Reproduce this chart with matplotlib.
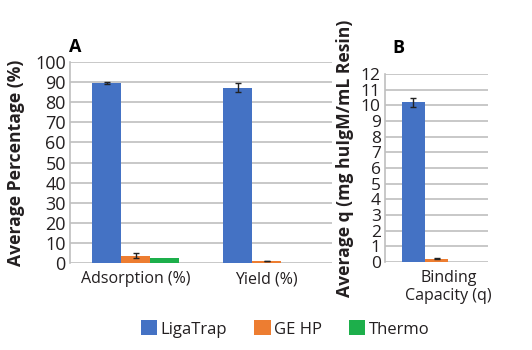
import numpy as np
from matplotlib import pyplot as plt
from matplotlib.transforms import ScaledTranslation

series = ["LigaTrap", "GE HP", "Thermo"]
colors = ["#4472C4", "#ED7D31", "#1DAF4B"]

cats_a = ["Adsorption (%)", "Yield (%)"]
vals_a = {"LigaTrap": [89.7, 87.3], "GE HP": [3.7, 1.0], "Thermo": [2.5, 0.0]}
errs_a = {"LigaTrap": [0.6, 2.2], "GE HP": [1.3, 0.2], "Thermo": [0.0, 0.0]}

cats_b = ["Binding\nCapacity (q)"]
vals_b = {"LigaTrap": [10.2], "GE HP": [0.2], "Thermo": [0.0]}
errs_b = {"LigaTrap": [0.28], "GE HP": [0.03], "Thermo": [0.0]}

plt.rcParams['font.family'] = ['Open Sans', 'DejaVu Sans']
fig = plt.figure(figsize=(5.32, 3.5), dpi=100)

grid_c = "#BFBFBF"
txt_c = "#231F20"


def draw(ax, cats, vals, errs, width, ymax, step, ysize):
    x = np.arange(len(cats))
    for i, s in enumerate(series):
        pos = x + (i - 1) * width
        v = np.array(vals[s])
        e = np.array(errs[s])
        ax.bar(pos, v, width, color=colors[i], label=s, zorder=3)
        mask = e > 0
        ax.errorbar(pos[mask], v[mask], yerr=e[mask], fmt="none", ecolor="#222222",
                    elinewidth=1, capsize=2.5, capthick=1, zorder=4)
    ax.set_ylim(0, ymax)
    ax.set_yticks(np.arange(0, ymax + step / 2, step))
    ax.set_xticks(x)
    ax.set_xticklabels(cats, fontsize=11.5, color=txt_c, linespacing=1.15)
    ax.tick_params(axis="y", labelsize=ysize, length=0, pad=3, colors=txt_c)
    ax.tick_params(axis="x", length=0, pad=6)
    ax.grid(axis="y", color=grid_c, linewidth=1.2, zorder=0)
    for sp in ["top", "right", "bottom"]:
        ax.spines[sp].set_visible(False)
    ax.spines["left"].set_color(grid_c)
    ax.spines["left"].set_linewidth(1.2)


ax_a = fig.add_axes([0.1316, 0.2486, 0.4925, 0.574])
draw(ax_a, cats_a, vals_a, errs_a, 0.22, 100, 10, 13)
ax_a.set_xlim(-0.5, 1.5)

ax_b = fig.add_axes([0.7237, 0.2514, 0.1936, 0.537])
draw(ax_b, cats_b, vals_b, errs_b, 0.225, 12, 1, 12.5)
ax_b.set_xlim(-0.5, 0.5)
for lab in ax_b.get_xticklabels():
    lab.set_transform(lab.get_transform() + ScaledTranslation(0.12, 0, fig.dpi_scale_trans))

fig.text(69 / 532, 1 - 47 / 350, "A", fontsize=13, fontweight="bold", va="center")
fig.text(392 / 532, 1 - 48 / 350, "B", fontsize=13, fontweight="bold", va="center")
fig.text(16 / 532, 1 - 163 / 350, "Average Percentage (%)", rotation=90,
         fontsize=12.6, fontweight="bold", ha="center", va="center", color=txt_c)
fig.text(345 / 532, 1 - 158 / 350, "Average q (mg huIgM/mL Resin)", rotation=90,
         fontsize=12.6, fontweight="bold", ha="center", va="center", color=txt_c)

handles, labels = ax_a.get_legend_handles_labels()
fig.legend(handles, labels, loc="center", bbox_to_anchor=(285 / 532, 1 - 329 / 350),
           ncol=3, frameon=False, fontsize=12, handlelength=1.0, handleheight=1.0,
           handletextpad=0.2, columnspacing=1.6, labelcolor=txt_c)

fig.savefig("out.png", dpi=100)
